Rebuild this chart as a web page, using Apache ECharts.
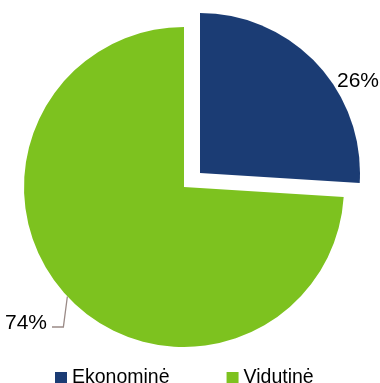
<!DOCTYPE html>
<html><head><meta charset="utf-8">
<script src="https://cdn.jsdelivr.net/npm/echarts@6/dist/echarts.min.js"></script>
<style>html,body{margin:0;padding:0;background:#fff}#c{width:380px;height:383px}</style>
</head><body><div id="c"></div>
<script>
const categories = ['Ekonominė', 'Vidutinė'];
const values = [26, 74];
const colors = ['#1B3C74', '#7DC21F'];

const chart = echarts.init(document.getElementById('c'), null, {renderer: 'canvas'});
const font = 'Liberation Sans, Arial, sans-serif';
const clear = 'rgba(0,0,0,0)';

// one pie per slice so the exploded slice can sit at its own centre
function slicePie(k, center, labelPos) {
  return {
    type: 'pie',
    center: center,
    radius: 160,
    startAngle: 90,
    clockwise: true,
    silent: true,
    data: categories.map((n, i) => ({
      name: n, value: values[i],
      itemStyle: {color: i === k ? colors[i] : clear},
      label: {show: i === k},
      labelLine: {show: i === k}
    })),
    label: {
      position: 'outside', formatter: '{d}%',
      fontFamily: font, fontSize: 21, color: '#000',
      overflow: 'none', width: 80
    },
    labelLine: {lineStyle: {color: '#9A8A86', width: 1.3, opacity: k === 0 ? 0 : 1}},
    labelLayout: labelPos,
    emphasis: {disabled: true}
  };
}

chart.setOption({
  animation: false,
  legend: {
    data: categories.map((n, i) => ({name: n, itemStyle: {color: colors[i]}})),
    top: 363,
    left: 50,
    icon: 'rect',
    itemWidth: 12,
    itemHeight: 12,
    itemGap: 57,
    itemStyle: {borderWidth: 0},
    textStyle: {fontFamily: font, fontSize: 19.5, color: '#000'},
    selectedMode: false
  },
  series: [
    slicePie(1, [184, 187], function (p) {
      const pt = p.labelLinePoints ? p.labelLinePoints[0] : [64, 297];
      return {x: 47, y: 323, align: 'right', verticalAlign: 'middle',
        labelLinePoints: [[pt[0], pt[1]], [pt[0] - 4, 327], [52, 327]]};
    }),
    slicePie(0, [200, 173], function () {
      return {x: 379, y: 81, align: 'right', verticalAlign: 'middle'};
    })
  ]
});
</script></body></html>
